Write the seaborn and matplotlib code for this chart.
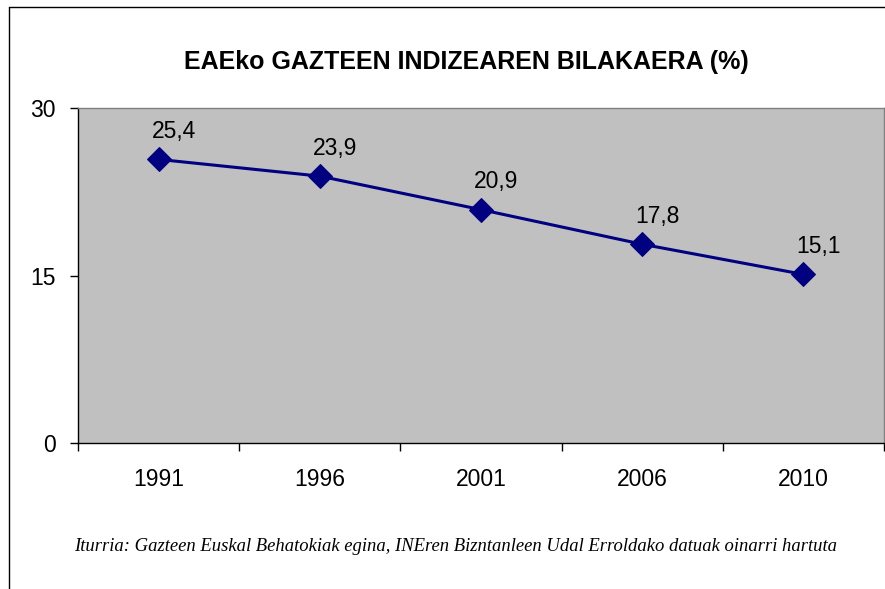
import pandas as pd
import seaborn as sns
import matplotlib.pyplot as plt
from matplotlib.lines import Line2D

# chart data
years = ["1991", "1996", "2001", "2006", "2010"]
index_pct = [25.4, 23.9, 20.9, 17.8, 15.1]
y_ticks = [0, 15, 30]

title = "EAEko GAZTEEN INDIZEAREN BILAKAERA (%)"
source = "Iturria: Gazteen Euskal Behatokiak egina, INEren Bizntanleen Udal Erroldako datuak oinarri hartuta"

df = pd.DataFrame({"year": years, "value": index_pct})

sns.set_style("white")
plt.rcParams["font.family"] = ["Liberation Sans", "DejaVu Sans"]
plt.rcParams["text.color"] = "black"
plt.rcParams["xtick.color"] = "black"
plt.rcParams["ytick.color"] = "black"

fig = plt.figure(figsize=(8.85, 5.89), dpi=100)
ax = fig.add_axes([0.0881, 0.2479, 0.9108, 0.5687])
ax.set_facecolor("#C0C0C0")

sns.lineplot(data=df, x="year", y="value", ax=ax, color="#000080",
             linewidth=2.2, marker="D", markersize=12,
             markeredgecolor="#000080", sort=False)

# value labels, Basque decimal comma
for i, v in enumerate(index_pct):
    ax.annotate(f"{v:.1f}".replace(".", ","), (i, v), xytext=(11, 20),
                textcoords="offset points", ha="center", va="center",
                fontsize=16.5, color="black")

ax.set_xlim(-0.5, len(years) - 0.5)
ax.set_ylim(0, 30)
ax.set_yticks(y_ticks)
ax.set_yticklabels([str(t) for t in y_ticks], fontsize=16.5)
ax.set_xticks(range(len(years)))
ax.set_xticklabels(years, fontsize=16.5)
ax.set_xlabel("")
ax.set_ylabel("")

# ticks between categories like Excel
ax.set_xticks([i - 0.5 for i in range(len(years) + 1)], minor=True)
ax.tick_params(axis="x", which="both", bottom=True)
ax.tick_params(axis="x", which="major", length=0, pad=18)
ax.tick_params(axis="x", which="minor", length=6, width=1, color="black", direction="out")
ax.tick_params(axis="y", left=True, length=6, width=1, color="black", direction="out", pad=10)

for side in ["left", "bottom"]:
    ax.spines[side].set_color("black")
    ax.spines[side].set_linewidth(1)
for side in ["top", "right"]:
    ax.spines[side].set_color("#808080")
    ax.spines[side].set_linewidth(1)

fig.text(0.527, 0.895, title, ha="center", va="center",
         fontsize=18, fontweight="bold")
fig.text(0.515, 0.073, source, ha="center", va="center",
         fontsize=13.4, style="italic", family=["Liberation Serif", "DejaVu Serif"])

# outer chart frame (top and left edges visible)
fig.add_artist(Line2D([0.0102, 0.0102], [0, 0.988], transform=fig.transFigure,
                      color="black", linewidth=1))
fig.add_artist(Line2D([0.0102, 1], [0.988, 0.988], transform=fig.transFigure,
                      color="black", linewidth=1))

plt.savefig("out.png", dpi=100)
